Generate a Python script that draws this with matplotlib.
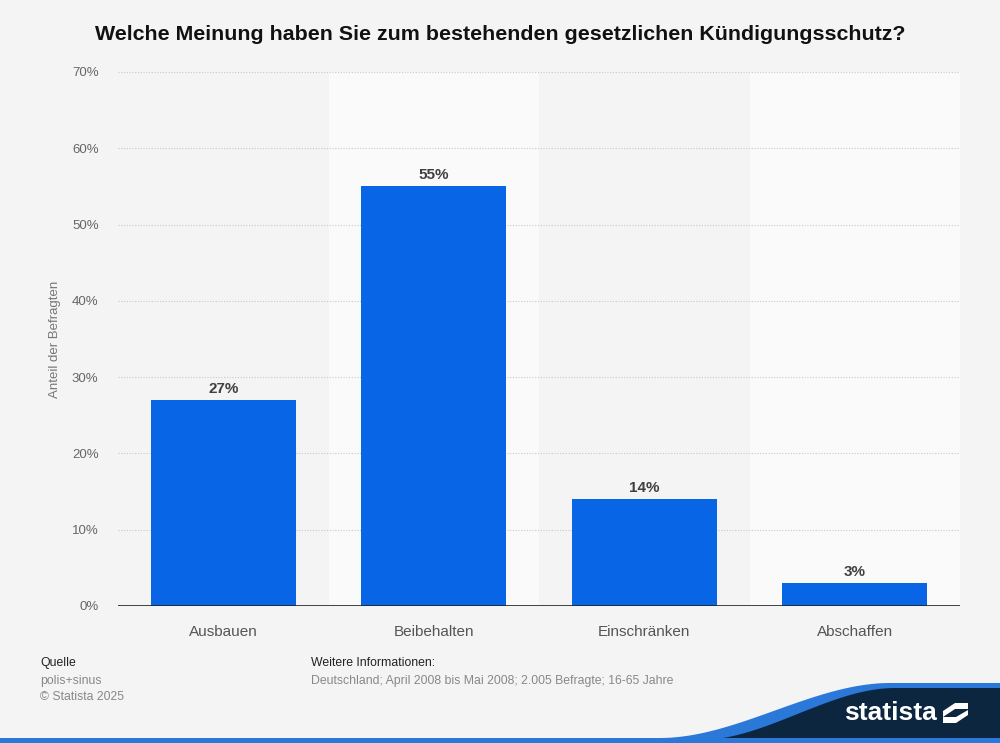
import numpy as np
import matplotlib.pyplot as plt
from matplotlib.patches import Polygon, Rectangle

plt.rcParams['font.family'] = ['Liberation Sans', 'DejaVu Sans']

# Daten
kategorien = ['Ausbauen', 'Beibehalten', 'Einschränken', 'Abschaffen']
anteile = [27, 55, 14, 3]
y_ticks = [0, 10, 20, 30, 40, 50, 60, 70]

BG = '#f4f4f4'
BAR = '#0866e6'
NAVY = '#0d2640'
BLUE = '#2a78d8'

fig = plt.figure(figsize=(10, 7.43), dpi=100, facecolor=BG)
ax = fig.add_axes([0.118, 0.1844, 0.842, 0.7187])
ax.set_facecolor(BG)

x = np.arange(len(kategorien))
ax.set_xlim(-0.5, len(kategorien) - 0.5)
ax.set_ylim(0, 70)

# helle Bänder hinter jeder zweiten Kategorie
for i in x:
    if i % 2 == 1:
        ax.axvspan(i - 0.5, i + 0.5, color='#fafafa', zorder=0, lw=0)

for y in y_ticks[1:]:
    ax.axhline(y, color='#c8c8c8', lw=0.8, ls=(0, (1, 1.5)), zorder=1)

ax.bar(x, anteile, width=0.69, color=BAR, zorder=3)
for xi, v in zip(x, anteile):
    ax.text(xi, v + 1.5, f'{v}%', ha='center', va='center', fontsize=11,
            fontweight='bold', color='#404040', zorder=4)

ax.axhline(0, color='#222222', lw=1.2, zorder=5)
for s in ax.spines.values():
    s.set_visible(False)

ax.set_yticks(y_ticks)
ax.set_yticklabels([f'{t}%' for t in y_ticks], fontsize=9.5, color='#666666')
ax.set_xticks(x)
ax.set_xticklabels(kategorien, fontsize=11, color='#555555')
ax.tick_params(axis='both', length=0)
ax.tick_params(axis='y', pad=14)
ax.tick_params(axis='x', pad=14)
ax.set_ylabel('Anteil der Befragten', fontsize=9.5, color='#777777', labelpad=0)
ax.yaxis.set_label_coords(-0.068, 0.5)

fig.text(0.5, 1 - 35 / 743, 'Welche Meinung haben Sie zum bestehenden gesetzlichen Kündigungsschutz?',
         ha='center', va='center', fontsize=15.4, fontweight='bold', color='#111111')

# Fußzeile
fs = 8.8
fig.text(0.040, 1 - 663 / 743, 'Quelle', fontsize=fs, color='#222222', va='center')
fig.text(0.040, 1 - 681 / 743, 'polis+sinus', fontsize=fs, color='#888888', va='center')
fig.text(0.040, 1 - 697 / 743, '© Statista 2025', fontsize=fs, color='#888888', va='center')
fig.text(0.311, 1 - 663 / 743, 'Weitere Informationen:', fontsize=fs, color='#222222', va='center')
fig.text(0.311, 1 - 681 / 743, 'Deutschland; April 2008 bis Mai 2008; 2.005 Befragte; 16-65 Jahre',
         fontsize=fs, color='#888888', va='center')

# Logo-Fläche unten rechts
H = 743.0
def pt(px, py):
    return (px / 1000.0, 1 - py / H)

t = np.linspace(0, 1, 50)
cx = 660 + (890 - 660) * t
cy = 738 - (738 - 683) * (3 * t**2 - 2 * t**3)
blue = [pt(a, b) for a, b in zip(cx, cy)] + [pt(1000, 683), pt(1000, 743), pt(660, 743)]
fig.patches.append(Polygon(blue, closed=True, transform=fig.transFigure,
                           facecolor=BLUE, edgecolor='none', zorder=1))
cx2 = 700 + (895 - 700) * t
cy2 = 740 - (740 - 688) * (3 * t**2 - 2 * t**3)
navy = [pt(a, b) for a, b in zip(cx2, cy2)] + [pt(1000, 688), pt(1000, 743), pt(700, 743)]
fig.patches.append(Polygon(navy, closed=True, transform=fig.transFigure,
                           facecolor=NAVY, edgecolor='none', zorder=2))
fig.patches.append(Rectangle((0, 0), 1, 5 / H, transform=fig.transFigure,
                             facecolor=BLUE, edgecolor='none', zorder=3))
fig.text(0.890, 1 - 713 / H, 'statista', fontsize=19, fontweight='bold', color='white',
         ha='center', va='center', zorder=4)
# Logo-Symbol
fig.patches.append(Rectangle(pt(943, 723), 25 / 1000, 20 / H, transform=fig.transFigure,
                             facecolor='white', edgecolor='none', zorder=4))
fig.patches.append(Polygon([pt(943, 717), pt(955, 709), pt(968, 709), pt(968, 710), pt(956, 717)],
                           closed=True, transform=fig.transFigure, facecolor=NAVY,
                           edgecolor='none', zorder=5))
fig.patches.append(Polygon([pt(943, 703), pt(955, 703), pt(943, 711)], closed=True,
                           transform=fig.transFigure, facecolor=NAVY, edgecolor='none', zorder=5))
fig.patches.append(Polygon([pt(968, 723), pt(956, 723), pt(968, 715)], closed=True,
                           transform=fig.transFigure, facecolor=NAVY, edgecolor='none', zorder=5))

fig.savefig('out.png', dpi=100, facecolor=BG)
